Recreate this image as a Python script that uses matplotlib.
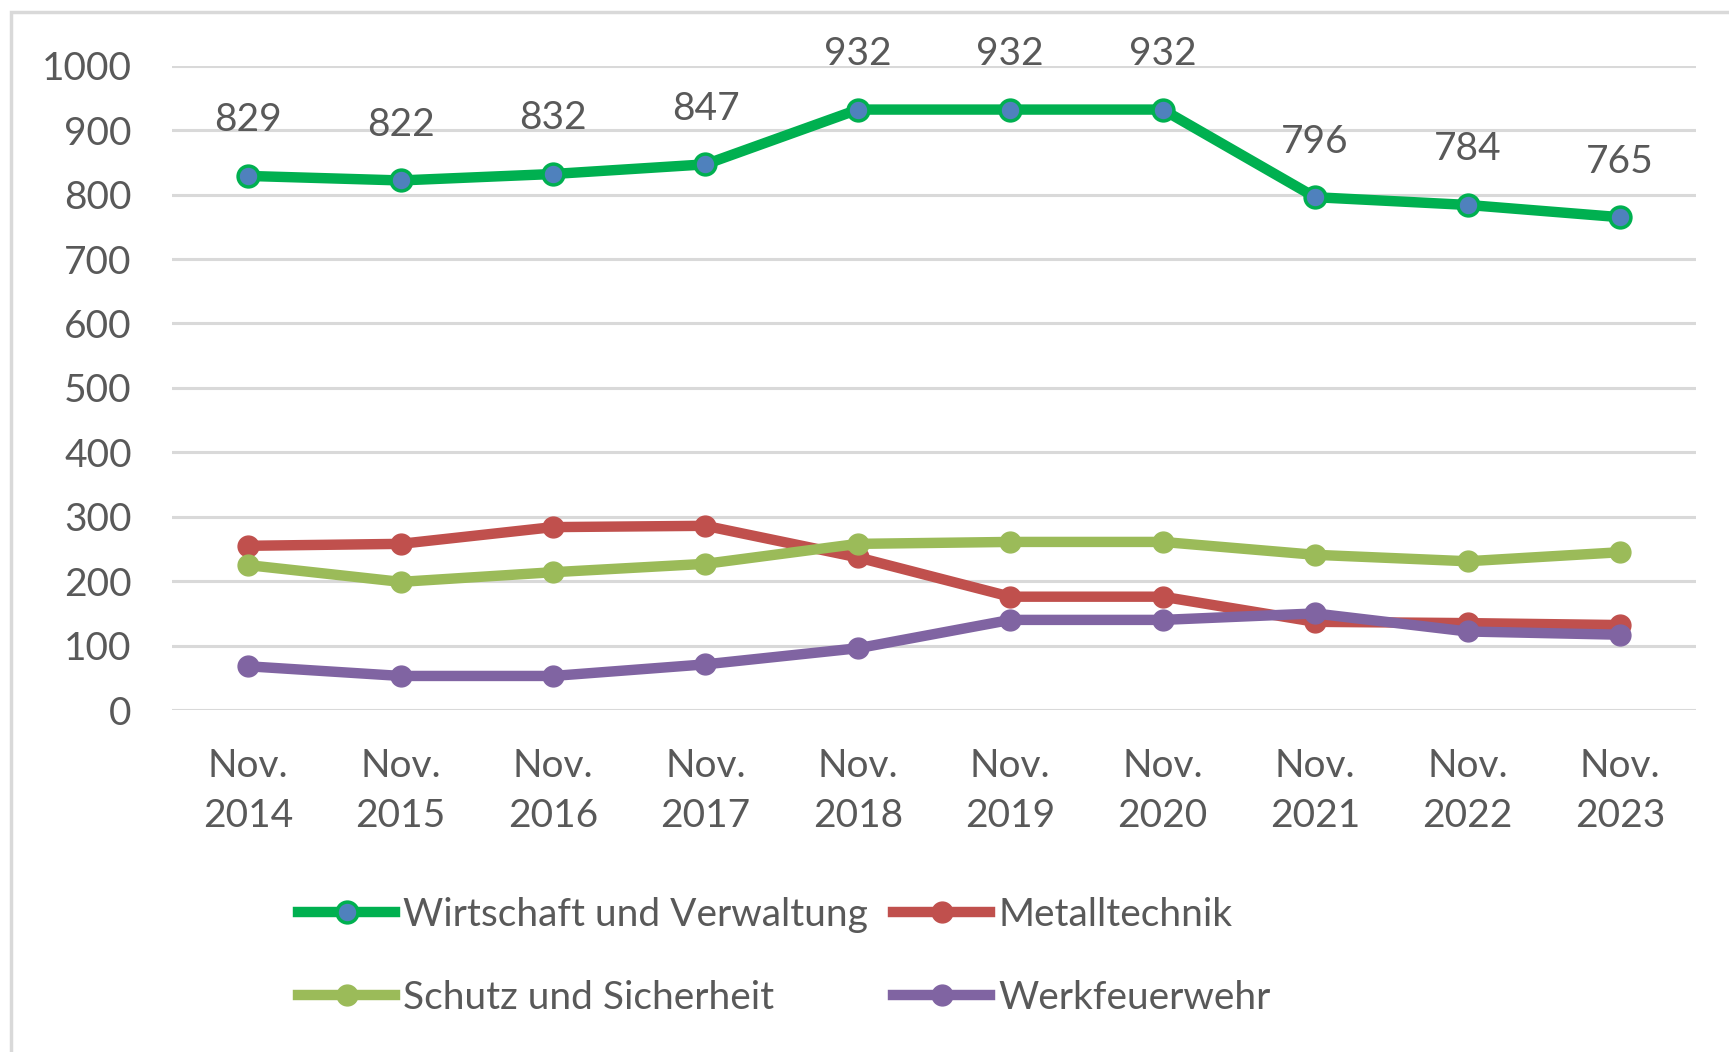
import matplotlib.pyplot as plt
from matplotlib.patches import Rectangle

plt.rcParams['font.family'] = ['Lato', 'DejaVu Sans']

years = ['Nov.\n2014', 'Nov.\n2015', 'Nov.\n2016', 'Nov.\n2017', 'Nov.\n2018',
         'Nov.\n2019', 'Nov.\n2020', 'Nov.\n2021', 'Nov.\n2022', 'Nov.\n2023']

# Werte
wirtschaft = [829, 822, 832, 847, 932, 932, 932, 796, 784, 765]
metall = [255, 258, 284, 286, 237, 176, 176, 137, 135, 132]
schutz = [225, 199, 214, 227, 258, 261, 261, 241, 231, 245]
feuerwehr = [68, 53, 53, 71, 96, 140, 140, 150, 122, 117]

text_col = '#595959'
grid_col = '#D9D9D9'

fig = plt.figure(figsize=(17.29, 10.52), dpi=100)
ax = fig.add_axes([0.0995, 0.325, 0.8815, 0.6125])

x = list(range(len(years)))
lw = 7.5
ms = 15

ax.plot(x, metall, color='#C0504D', lw=lw, marker='o', ms=ms, label='Metalltechnik', zorder=3)
ax.plot(x, schutz, color='#9BBB59', lw=lw, marker='o', ms=ms, label='Schutz und Sicherheit', zorder=3)
ax.plot(x, feuerwehr, color='#8064A2', lw=lw, marker='o', ms=ms, label='Werkfeuerwehr', zorder=4)
ax.plot(x, wirtschaft, color='#00B050', lw=lw, marker='o', ms=ms, mfc='#4F81BD',
        mec='#00B050', mew=2.5, label='Wirtschaft und Verwaltung', zorder=5)

for i, v in enumerate(wirtschaft):
    ax.annotate(str(v), (i, v), xytext=(0, 40), textcoords='offset points',
                ha='center', va='center', fontsize=28, color=text_col)

ax.set_xlim(-0.5, len(years) - 0.5)
ax.set_ylim(0, 1000)
ax.set_yticks(range(0, 1001, 100))
ax.set_xticks(x)
ax.set_xticklabels(years, linespacing=1.5)
ax.tick_params(axis='both', length=0, labelsize=28, labelcolor=text_col)
ax.tick_params(axis='y', pad=29)
ax.tick_params(axis='x', pad=27)
ax.grid(axis='y', color=grid_col, lw=2.2)
ax.set_axisbelow(True)
for s in ax.spines.values():
    s.set_visible(False)

# Legende: Zeile 1 Wirtschaft / Metall, Zeile 2 Schutz / Werkfeuerwehr
handles, labels = ax.get_legend_handles_labels()
order = [3, 1, 0, 2]
fig.legend([handles[i] for i in order], [labels[i] for i in order],
           loc='upper left', bbox_to_anchor=(298 / 1729, 1 - 897 / 1052),
           ncol=2, frameon=False, fontsize=28, labelcolor=text_col,
           handlelength=2.5, handletextpad=0.2, columnspacing=0.65,
           labelspacing=1.2, borderpad=0, borderaxespad=0)

# grauer Rahmen
fig.patches.append(Rectangle((11 / 1729, -0.1), 1.2, 0.1 + 1 - 12 / 1052, transform=fig.transFigure,
                             fill=False, edgecolor=grid_col, lw=2.5))

fig.savefig('out.png', dpi=100)
